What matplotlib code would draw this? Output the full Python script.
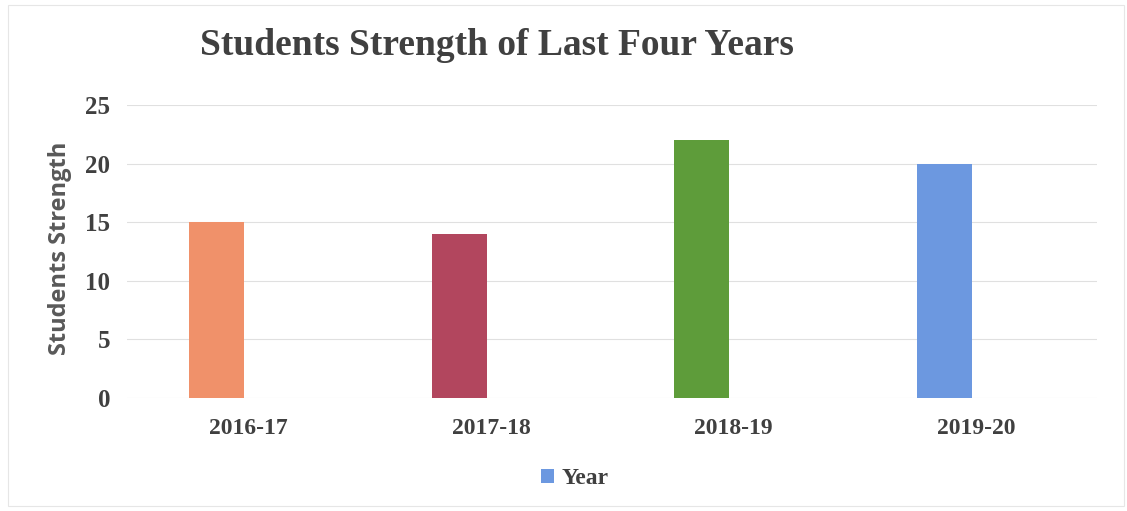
import matplotlib
matplotlib.use("Agg")
import matplotlib.pyplot as plt
from matplotlib.patches import Patch, Rectangle
import numpy as np

categories = ["2016-17", "2017-18", "2018-19", "2019-20"]
values = [15, 14, 22, 20]
bar_colors = ["#F0916A", "#B2465E", "#5E9C3A", "#6C98E0"]
yticks = [0, 5, 10, 15, 20, 25]
legend_label = "Year"
legend_color = "#6C98E0"

fig = plt.figure(figsize=(11.27, 5.11), dpi=100)
ax = fig.add_axes([0.1127, 0.221, 0.861, 0.5735])

x = np.arange(len(categories))
ax.bar(x - 0.13, values, width=0.227, color=bar_colors, zorder=3)

ax.set_xlim(-0.5, len(categories) - 0.5)
ax.set_ylim(0, 25)
ax.set_yticks(yticks)
ax.set_xticks(x)
ax.set_xticklabels(categories)

serif = ["Liberation Serif", "DejaVu Serif"]
for lab in ax.get_xticklabels():
    lab.set_fontfamily(serif)
    lab.set_fontweight("bold")
    lab.set_fontsize(17)
    lab.set_color("#404040")
for lab in ax.get_yticklabels():
    lab.set_fontfamily(serif)
    lab.set_fontweight("bold")
    lab.set_fontsize(18)
    lab.set_color("#404040")

ax.tick_params(axis="both", length=0)
ax.tick_params(axis="x", pad=14)
ax.tick_params(axis="y", pad=12)
ax.yaxis.grid(True, color="#e0e0e0", linewidth=0.8, zorder=0)
for s in ax.spines.values():
    s.set_visible(False)

fig.text(60 / 1127, 1 - 248 / 511, "Students Strength", rotation=90,
         fontfamily=["Open Sans", "DejaVu Sans"], fontweight="bold", fontsize=17,
         color="#595959", ha="center", va="center")

fig.text(0.441, 0.911, "Students Strength of Last Four Years",
         fontfamily=serif, fontweight="bold", fontsize=27,
         color="#404040", ha="center", va="center")

handles = [Patch(facecolor=legend_color, edgecolor="none")]
leg = fig.legend(handles, [legend_label], loc="center", bbox_to_anchor=(0.51, 0.063),
                 frameon=False, handlelength=0.55, handleheight=0.55, handletextpad=0.3,
                 prop={"family": serif, "weight": "bold", "size": 17})
for t in leg.get_texts():
    t.set_color("#404040")

fig.patches.append(Rectangle((0.007, 0.01), 0.99, 0.98, transform=fig.transFigure,
                             fill=False, edgecolor="#e6e6e6", linewidth=0.8))

fig.savefig("out.png", dpi=100)
